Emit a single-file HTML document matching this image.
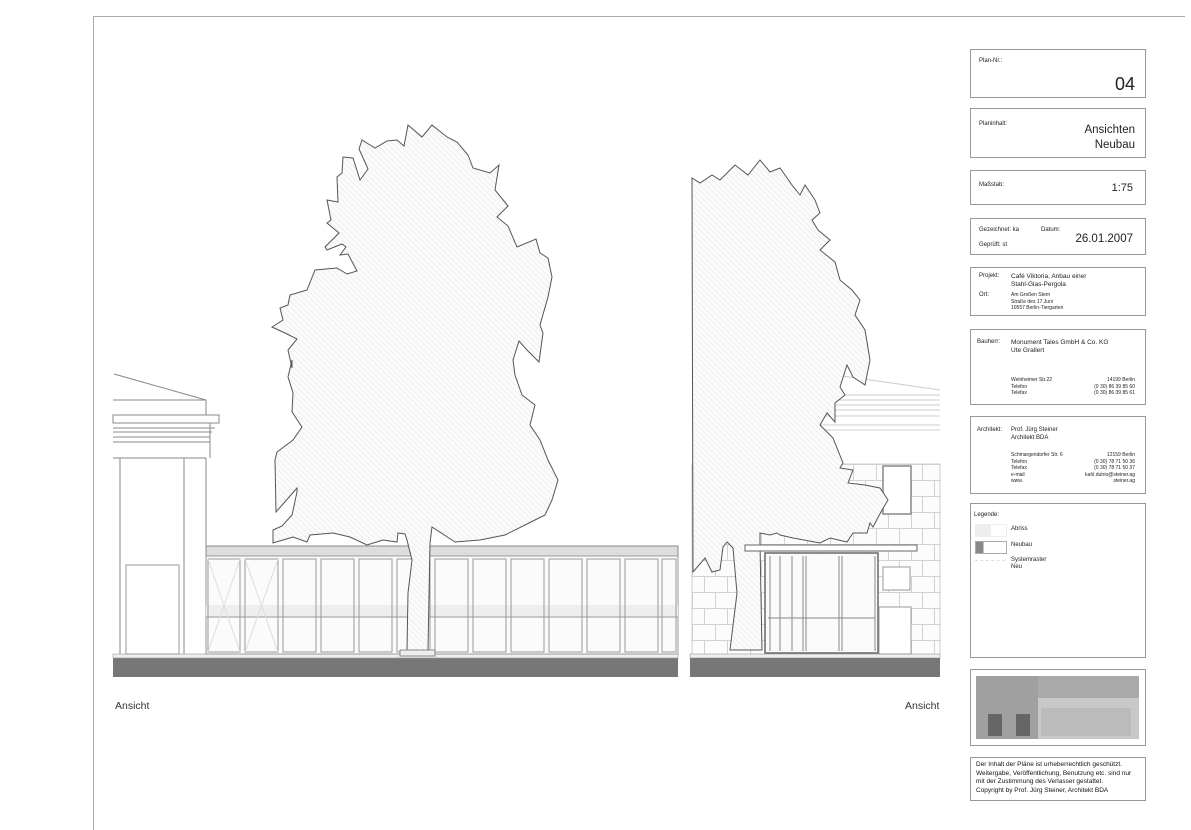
<!DOCTYPE html>
<html><head><meta charset="utf-8"><style>
body{margin:0;background:#fff;width:1191px;height:830px;overflow:hidden;font-family:"Liberation Sans",sans-serif;}
svg{position:absolute;left:0;top:0}
.b{position:absolute;border:1px solid #999;background:#fff;box-sizing:border-box;left:970px;width:176px;color:#222}
.s{font-size:6px;position:absolute}
.m{font-size:6px;line-height:6.5px;position:absolute}
</style></head><body>
<svg width="1191" height="830" viewBox="0 0 1191 830">
<defs>
<pattern id="h" width="4" height="4" patternUnits="userSpaceOnUse" patternTransform="rotate(-45)">
<rect width="4" height="4" fill="#fbfbfb"/><line x1="0" y1="0" x2="0" y2="4" stroke="#dadada" stroke-width="0.7"/></pattern>
<pattern id="st" x="692" y="464" width="46" height="32" patternUnits="userSpaceOnUse">
<rect width="46" height="32" fill="#fcfcfc"/>
<path d="M0 0.5H46M0 16.5H46M0.5 0V16M23.5 0V16M12.5 16V32M35.5 16V32" stroke="#d2d2d2" stroke-width="1" fill="none"/></pattern>
</defs>
<path d="M93.5 830V16.5H1185" stroke="#aaa" fill="none"/>
<rect x="113" y="658" width="565" height="19" fill="#777"/>
<rect x="113" y="654" width="565" height="4" fill="#eee" stroke="#999" stroke-width="0.6"/>
<path d="M114 374L206 400V415M113 400H206" stroke="#888" fill="none"/>
<rect x="113" y="415" width="106" height="8" fill="#fff" stroke="#888"/>
<path d="M113 428H215M113 432H212M113 437H210M113 442H210M113 458H206M210 423V458M120 458V654M184 458V654M206 458V654" stroke="#888" fill="none"/>
<rect x="126" y="565" width="53" height="89" fill="#fff" stroke="#999"/>
<rect x="206" y="546" width="472" height="10" fill="#ddd" stroke="#888"/>
<rect x="206" y="556" width="472" height="98" fill="#fbfbfb" stroke="#999"/>
<rect x="206" y="605" width="472" height="12" fill="#eee"/>
<g stroke="#999" fill="none" stroke-width="1">
<path d="M206 617H678"/>
<path d="M208 559H240V652H208ZM245 559H278V652H245ZM283 559H316V652H283ZM321 559H354V652H321ZM359 559H392V652H359ZM397 559H430V652H397ZM435 559H468V652H435ZM473 559H506V652H473ZM511 559H544V652H511ZM549 559H582V652H549ZM587 559H620V652H587ZM625 559H658V652H625ZM662 559H676V652H662Z"/>
<path d="M208 559L240 652M240 559L208 652M245 559L278 652M278 559L245 652" stroke="#ddd"/>
</g>
<polygon fill="url(#h)" stroke="#555" stroke-width="1" points="408,125 422,137 432,125 447,137 457,142 468,155 473,168 490,173 499,165 495,190 508,206 497,217 508,226 517,247 536,239 540,253 548,258 552,277 548,297 540,325 543,333 539,362 527,350 519,341 513,360 515,375 522,395 535,405 530,425 540,440 548,460 558,480 552,500 545,515 525,525 505,535 480,540 455,542 432,527 430,543 428,650 407,650 408,593 412,560 407,540 405,534 398,533 397,542 383,540 367,545 350,537 333,533 310,535 307,542 293,537 283,540 273,543 273,530 282,526 292,515 297,492 297,488 276,512 275,460 277,452 293,440 302,427 292,412 293,393 288,377 292,360 292,368 288,350 297,339 285,333 272,327 283,320 280,308 288,305 290,295 307,290 315,270 337,268 347,274 357,271 348,254 340,255 346,247 342,244 327,250 325,247 339,233 327,223 331,220 327,200 338,202 337,177 342,173 343,157 353,158 360,180 368,169 359,149 362,140 375,148 387,141 397,140 404,146"/>
<rect x="400" y="650" width="35" height="6" fill="#eee" stroke="#888"/>
<path d="M780 367L940 390M692 395H940M692 400H940M692 405H940M692 410H940M692 416H940M692 425H940M692 430H940" stroke="#ccc" fill="none"/>
<rect x="692" y="464" width="248" height="191" fill="url(#st)" stroke="#ccc"/>
<rect x="735" y="466" width="28" height="48" fill="#fff" stroke="#888" stroke-width="1.5"/>
<rect x="806" y="466" width="28" height="48" fill="#fff" stroke="#888" stroke-width="1.5"/>
<rect x="883" y="466" width="28" height="48" fill="#fff" stroke="#888" stroke-width="1.5"/>
<rect x="690" y="654" width="250" height="4" fill="#eee" stroke="#999" stroke-width="0.6"/>
<rect x="690" y="658" width="250" height="19" fill="#777"/>
<polygon fill="url(#h)" stroke="#555" stroke-width="1" points="692,178 700,183 712,175 720,180 735,165 748,175 760,160 770,172 780,168 792,185 800,195 805,185 815,200 820,213 812,220 818,230 830,240 820,250 835,262 840,280 852,290 860,300 855,315 865,330 870,360 865,385 853,377 847,365 840,387 845,395 835,403 835,422 827,413 820,425 833,438 843,463 840,468 853,470 848,483 865,485 880,488 888,500 882,510 873,527 870,523 867,533 853,533 847,542 830,538 820,543 793,538 780,535 777,533 770,535 760,533 760,543 762,650 730,650 737,593 733,548 727,542 723,547 720,570 712,572 705,558 693,572"/>
<rect x="745" y="545" width="172" height="6" fill="#fff" stroke="#666"/>
<rect x="765" y="553" width="113" height="100" fill="#fafafa" stroke="#666" stroke-width="1.5"/>
<path d="M770 556V651M803 556V651M806 556V651M839 556V651M842 556V651M875 556V651M780 556V651M792 556V651M768 618H875" stroke="#888" fill="none"/>
<rect x="883" y="567" width="27" height="23" fill="#fff" stroke="#999"/>
<rect x="879" y="607" width="32" height="47" fill="#fff" stroke="#999"/>
<text x="115" y="709" font-size="10.5" fill="#333" font-family="Liberation Sans">Ansicht</text>
<text x="905" y="709" font-size="10.5" fill="#333" font-family="Liberation Sans">Ansicht</text>
</svg>

<div class="b" style="top:49px;height:49px"><span class="s" style="left:8px;top:8px">Plan-Nr.:</span><span style="position:absolute;right:10px;top:24px;font-size:18px">04</span></div>
<div class="b" style="top:108px;height:50px"><span class="s" style="left:8px;top:12px">Planinhalt:</span><div style="position:absolute;right:10px;top:14px;font-size:11.5px;text-align:right;line-height:15px">Ansichten<br>Neubau</div></div>
<div class="b" style="top:170px;height:35px"><span class="s" style="left:8px;top:11px">Maßstab:</span><span style="position:absolute;right:12px;top:11px;font-size:11px">1:75</span></div>
<div class="b" style="top:218px;height:37px"><span class="s" style="left:8px;top:8px">Gezeichnet: ka</span><span class="s" style="left:70px;top:8px">Datum:</span><span class="s" style="left:8px;top:23px">Geprüft: st</span><span style="position:absolute;right:12px;top:14px;font-size:11.5px">26.01.2007</span></div>
<div class="b" style="top:267px;height:49px"><span class="m" style="left:8px;top:5px">Projekt:</span><span class="m" style="left:40px;top:5px;font-size:6.5px;line-height:8px">Café Viktoria, Anbau einer<br>Stahl-Glas-Pergola</span><span class="m" style="left:8px;top:24px">Ort:</span><span class="m" style="left:40px;top:24px;font-size:5px">Am Großen Stern<br>Straße des 17.Juni<br>10557 Berlin-Tiergarten</span></div>
<div class="b" style="top:329px;height:76px"><span class="m" style="left:6px;top:9px">Bauherr:</span><span class="m" style="left:40px;top:9px;font-size:6.5px;line-height:8px">Monument Tales GmbH &amp; Co. KG<br>Ute Grallert</span><span class="m" style="left:40px;top:47px;font-size:5px">Weinheimer Str.22<br>Telefon<br>Telefax</span><span class="m" style="right:10px;top:47px;font-size:5px;text-align:right">14199 Berlin<br>(0 30) 86 39 85 60<br>(0 30) 86 39 85 61</span></div>
<div class="b" style="top:416px;height:78px"><span class="m" style="left:6px;top:10px">Architekt:</span><span class="m" style="left:40px;top:10px;font-size:6px;line-height:7.5px">Prof. Jürg Steiner<br>Architekt BDA</span><span class="m" style="left:40px;top:35px;font-size:5px">Schmargendorfer Str. 6<br>Telefon<br>Telefax<br>e-mail<br>www.</span><span class="m" style="right:10px;top:35px;font-size:5px;text-align:right">12159 Berlin<br>(0 30) 78 71 50 36<br>(0 30) 78 71 50 37<br>kahl.dutrio@steiner.ag<br>steiner.ag</span></div>
<div class="b" style="top:503px;height:155px"><span class="s" style="left:3px;top:8px">Legende:</span>
<div style="position:absolute;left:4px;top:20px;width:30px;height:11px;border:1px solid #eee;background:linear-gradient(90deg,#eee 50%,#fff 50%)"></div><span class="s" style="left:40px;top:22px">Abriss</span>
<div style="position:absolute;left:4px;top:37px;width:30px;height:11px;border:1px solid #aaa;background:linear-gradient(90deg,#888 25%,#fff 25%)"></div><span class="s" style="left:40px;top:38px">Neubau</span>
<div style="position:absolute;left:4px;top:56px;width:30px;border-top:1px dashed #ddd"></div><span class="m" style="left:40px;top:53px">Systemraster<br>Neu</span></div>
<div class="b" style="top:669px;height:77px"><div style="position:absolute;left:5px;top:6px;width:163px;height:63px;background:#c8c8c8"><div style="position:absolute;left:0;top:0;width:163px;height:22px;background:#aaa"></div><div style="position:absolute;left:0;top:0;width:62px;height:63px;background:#a0a0a0"></div><div style="position:absolute;left:65px;top:32px;width:90px;height:28px;background:#bbb"></div><div style="position:absolute;left:12px;top:38px;width:14px;height:22px;background:#666"></div><div style="position:absolute;left:40px;top:38px;width:14px;height:22px;background:#666"></div></div></div>
<div class="b" style="top:757px;height:44px;padding:3px 5px;font-size:6.5px;line-height:8.5px;color:#111">Der Inhalt der Pläne ist urheberrechtlich geschützt.<br>Weitergabe, Veröffentlichung, Benutzung etc. sind nur<br>mit der Zustimmung des Verlasser gestattet.<br>Copyright by Prof. Jürg Steiner, Architekt BDA</div>
</body></html>
